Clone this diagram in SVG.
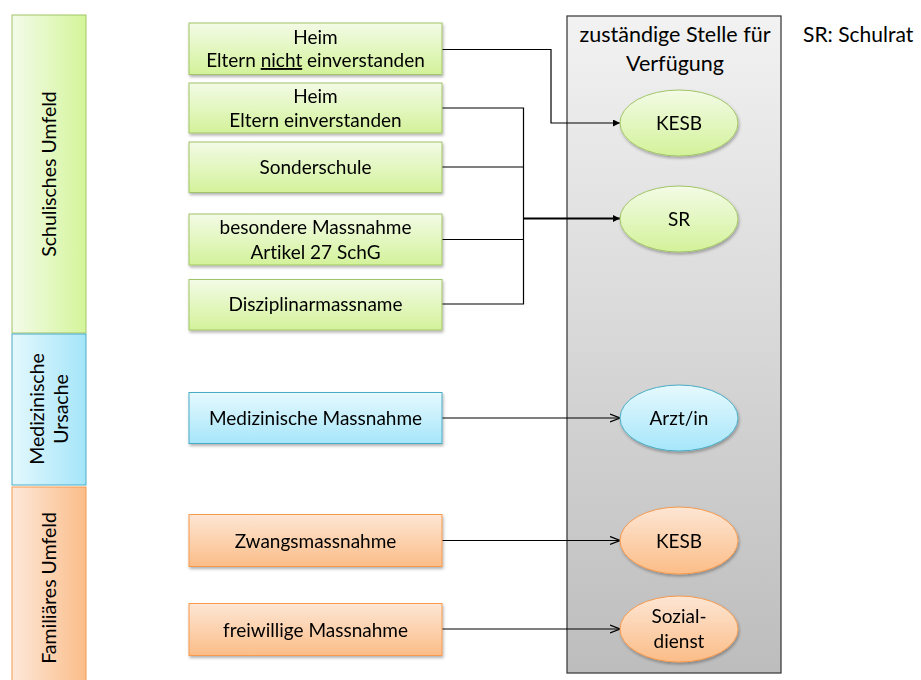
<svg xmlns="http://www.w3.org/2000/svg" width="921" height="680" viewBox="0 0 921 680">
<style>
  text { font-family: Lato, "Open Sans", "Liberation Sans", sans-serif; fill: #000; font-variant-ligatures: none; }
  .lbl { font-size: 19px; text-anchor: middle; }
  .side { font-size: 19.5px; text-anchor: middle; }
  .title { font-size: 21.5px; text-anchor: middle; }
  .g { stroke: #a2c467; stroke-width: 1; }
  .b { stroke: #4aacc5; stroke-width: 1; }
  .o { stroke: #f59a4f; stroke-width: 1; }
  .con { fill: none; stroke: #000; stroke-width: 1.2; }
</style>
<defs>
  <linearGradient id="gh" x1="0" y1="0" x2="1" y2="0"><stop offset="0" stop-color="#f3fbe9"/><stop offset="1" stop-color="#d4f59a"/></linearGradient>
  <linearGradient id="bh" x1="0" y1="0" x2="1" y2="0"><stop offset="0" stop-color="#e4f8fd"/><stop offset="1" stop-color="#a4e5f9"/></linearGradient>
  <linearGradient id="oh" x1="0" y1="0" x2="1" y2="0"><stop offset="0" stop-color="#fde8d9"/><stop offset="1" stop-color="#fbbd89"/></linearGradient>
  <linearGradient id="gv" x1="0" y1="0" x2="0" y2="1"><stop offset="0" stop-color="#f3fbe6"/><stop offset="1" stop-color="#d3f29a"/></linearGradient>
  <linearGradient id="bv" x1="0" y1="0" x2="0" y2="1"><stop offset="0" stop-color="#e6f9fe"/><stop offset="1" stop-color="#a6e6fa"/></linearGradient>
  <linearGradient id="ov" x1="0" y1="0" x2="0" y2="1"><stop offset="0" stop-color="#fde6d4"/><stop offset="1" stop-color="#fbbd88"/></linearGradient>
  <linearGradient id="grey" x1="0" y1="0" x2="0" y2="1"><stop offset="0" stop-color="#f2f2f2"/><stop offset="1" stop-color="#bdbdbd"/></linearGradient>
  <filter id="sh" x="-10%" y="-10%" width="125%" height="135%"><feDropShadow dx="1" dy="2" stdDeviation="1.5" flood-color="#000" flood-opacity="0.3"/></filter>
  <marker id="af" viewBox="0 0 10 10" refX="10" refY="5" markerWidth="9" markerHeight="7" markerUnits="userSpaceOnUse" orient="auto"><path d="M0,0 L10,5 L0,10 z" fill="#000"/></marker>
  <marker id="ao" viewBox="0 0 10 10" refX="10" refY="5" markerWidth="10" markerHeight="10" markerUnits="userSpaceOnUse" orient="auto"><path d="M0,1 L10,5 L0,9" fill="none" stroke="#000" stroke-width="1.3"/></marker>
</defs>

<rect width="921" height="680" fill="#fff"/>

<!-- side bars -->
<g id="side-schule"><rect x="12" y="15" width="74" height="318" fill="url(#gh)" class="g"/><text class="side" transform="translate(56,174) rotate(-90)">Schulisches Umfeld</text></g>
<g id="side-medizin"><rect x="12" y="334" width="74" height="151" fill="url(#bh)" class="b"/><text class="side" transform="translate(44,409) rotate(-90)">Medizinische</text><text class="side" transform="translate(68,409) rotate(-90)">Ursache</text></g>
<g id="side-familie"><rect x="12" y="487" width="74" height="200" fill="url(#oh)" class="o"/><text class="side" transform="translate(56,588) rotate(-90)">Familiäres Umfeld</text></g>

<!-- grey container -->
<g id="stelle"><rect x="567" y="16" width="214" height="657" fill="url(#grey)" stroke="#404040" stroke-width="1.3"/>
<text class="title" x="675" y="42">zuständige Stelle für</text><text class="title" x="675" y="71">Verfügung</text></g>
<g id="legend"><text x="803" y="42" style="font-size:21px">SR: Schulrat</text></g>

<!-- connectors -->
<g id="connectors">
  <polyline class="con" points="442,49.5 551,49.5 551,123 620,123" marker-end="url(#af)"/>
  <polyline class="con" points="442,108 523.5,108 523.5,304 442,304"/>
  <line class="con" x1="442" y1="167" x2="523.5" y2="167"/>
  <line class="con" x1="442" y1="239.5" x2="523.5" y2="239.5"/>
  <line x1="523.5" y1="218.5" x2="620" y2="218.5" stroke="#000" stroke-width="2" marker-end="url(#af)"/>
  <line class="con" x1="442" y1="418" x2="620" y2="418" marker-end="url(#ao)"/>
  <line class="con" x1="442" y1="540.5" x2="620" y2="540.5" marker-end="url(#ao)"/>
  <line class="con" x1="442" y1="629" x2="620" y2="629" marker-end="url(#ao)"/>
</g>

<!-- source boxes -->
<g id="heim-nicht" filter="url(#sh)"><rect x="189" y="23" width="253" height="51.5" fill="url(#gv)" class="g"/><text class="lbl" x="315.5" y="43.5">Heim</text><text class="lbl" x="315.5" y="67">Eltern <tspan text-decoration="underline">nicht</tspan> einverstanden</text></g>
<g id="heim-ja" filter="url(#sh)"><rect x="189" y="83" width="253" height="50" fill="url(#gv)" class="g"/><text class="lbl" x="315.5" y="102.5">Heim</text><text class="lbl" x="315.5" y="126.5">Eltern einverstanden</text></g>
<g id="sonderschule" filter="url(#sh)"><rect x="189" y="142" width="253" height="50.5" fill="url(#gv)" class="g"/><text class="lbl" x="315.5" y="174">Sonderschule</text></g>
<g id="besondere" filter="url(#sh)"><rect x="189" y="214" width="253" height="51" fill="url(#gv)" class="g"/><text class="lbl" x="315.5" y="233.5">besondere Massnahme</text><text class="lbl" x="315.5" y="258.5">Artikel 27 SchG</text></g>
<g id="disziplin" filter="url(#sh)"><rect x="189" y="279.5" width="253" height="50.5" fill="url(#gv)" class="g"/><text class="lbl" x="315.5" y="311">Disziplinarmassname</text></g>
<g id="medizinisch" filter="url(#sh)"><rect x="189" y="392.5" width="253" height="51" fill="url(#bv)" class="b"/><text class="lbl" x="315.5" y="425">Medizinische Massnahme</text></g>
<g id="zwang" filter="url(#sh)"><rect x="189" y="514.5" width="253" height="52" fill="url(#ov)" class="o"/><text class="lbl" x="315.5" y="547.5">Zwangsmassnahme</text></g>
<g id="freiwillig" filter="url(#sh)"><rect x="189" y="603.5" width="253" height="52" fill="url(#ov)" class="o"/><text class="lbl" x="315.5" y="636.5">freiwillige Massnahme</text></g>

<!-- target ellipses -->
<g id="kesb1" filter="url(#sh)"><ellipse cx="679" cy="123" rx="59" ry="33" fill="url(#gv)" class="g"/><text class="lbl" x="679" y="130">KESB</text></g>
<g id="sr" filter="url(#sh)"><ellipse cx="679" cy="219" rx="59" ry="33" fill="url(#gv)" class="g"/><text class="lbl" x="679" y="226">SR</text></g>
<g id="arzt" filter="url(#sh)"><ellipse cx="679" cy="418" rx="59" ry="33" fill="url(#bv)" class="b"/><text class="lbl" x="679" y="425">Arzt/in</text></g>
<g id="kesb2" filter="url(#sh)"><ellipse cx="679" cy="540.5" rx="59" ry="33.5" fill="url(#ov)" class="o"/><text class="lbl" x="679" y="547.5">KESB</text></g>
<g id="sozial" filter="url(#sh)"><ellipse cx="679" cy="629" rx="59" ry="33" fill="url(#ov)" class="o"/><text class="lbl" x="679" y="623">Sozial-</text><text class="lbl" x="679" y="648">dienst</text></g>
</svg>
